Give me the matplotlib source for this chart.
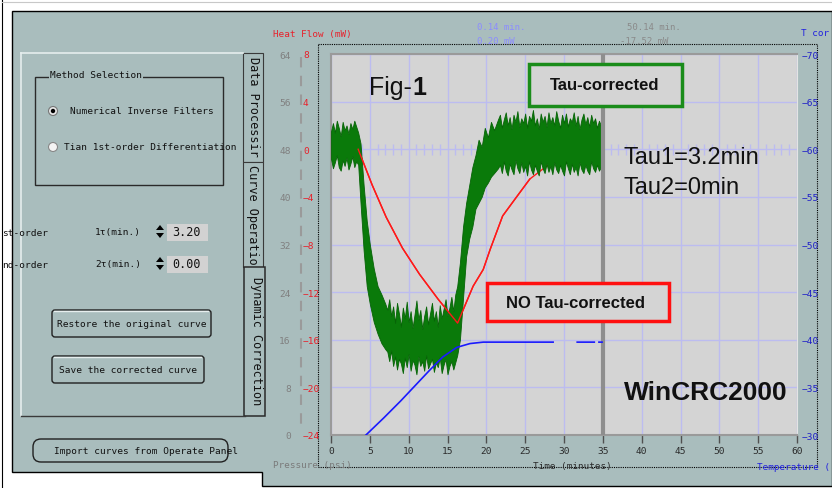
import numpy as np
import matplotlib.pyplot as plt
from matplotlib.patches import Rectangle, FancyBboxPatch, Circle, Polygon

plt.rcParams['font.family'] = 'DejaVu Sans Mono'

# axis ticks
time_ticks = [0, 5, 10, 15, 20, 25, 30, 35, 40, 45, 50, 55, 60]
heat_ticks = [8, 4, 0, -4, -8, -12, -16, -20, -24]
pressure_ticks = [64, 56, 48, 40, 32, 24, 16, 8, 0]
temp_ticks = [-70, -65, -60, -55, -50, -45, -40, -35, -30]

# red curve: heat flow, no tau correction (mW)
red_t = [3.5, 5.3, 7.1, 9.2, 11.4, 13.8, 16.3, 17.2, 18.3, 19.6, 20.5, 22.1, 23.9,
         25.6, 27.8, 29.1, 31.7, 33.5, 35.0]
red_hf = [0.0, -3.0, -5.7, -8.3, -10.5, -12.6, -14.6, -13.2, -11.5, -10.1, -8.4, -5.6, -4.0,
          -2.5, -1.4, -1.0, -0.25, 0.0, 0.1]

# green curve: tau-corrected heat flow, noisy band (upper / lower envelope, mW)
green_t = [0, 0.25, 0.5, 0.75, 1.0, 1.25, 1.5, 1.75, 2.0, 2.25, 2.5, 2.75, 3.0, 3.25, 3.5,
           3.8, 4.2, 4.6, 5.0, 5.5, 6.0, 6.5, 7.0,
           7.25, 7.5, 7.75, 8.0, 8.25, 8.5, 8.75, 9.0, 9.25, 9.5,
           9.75, 10.0, 10.25, 10.5, 10.75, 11.0, 11.25, 11.5, 11.75, 12.0,
           12.25, 12.5, 12.75, 13.0, 13.25, 13.5, 13.75, 14.0, 14.25, 14.5,
           14.75, 15.0, 15.25, 15.5, 15.75, 16.0, 16.25,
           16.6, 17.0, 17.4, 17.8, 18.2, 18.6, 19.0, 19.4, 19.8, 20.2, 20.6, 21.0, 21.5,
           21.75, 22.0, 22.25, 22.5, 22.75, 23.0, 23.25, 23.5, 23.75, 24.0,
           24.25, 24.5, 24.75, 25.0, 25.25, 25.5, 25.75, 26.0, 26.25, 26.5,
           26.75, 27.0, 27.25, 27.5, 27.75, 28.0, 28.25, 28.5, 28.75, 29.0,
           29.25, 29.5, 29.75, 30.0, 30.25, 30.5, 30.75, 31.0, 31.25, 31.5,
           31.75, 32.0, 32.25, 32.5, 32.75, 33.0, 33.25, 33.5, 33.75, 34.0,
           34.25, 34.5, 34.75, 35.0]
green_hi = [1.5, 2.2, 1.4, 2.4, 1.8, 1.1, 2.3, 1.6, 2.0, 1.3, 2.2, 1.7, 2.4, 1.9, 1.4,
            0.5, -3.0, -6.0, -8.0, -10.0, -11.5, -12.2, -13.0,
            -13.5, -12.6, -14.0, -13.2, -14.6, -12.9, -13.8, -14.9, -13.3, -14.2,
            -12.8, -14.5, -13.6, -15.0, -13.9, -12.7, -14.3, -13.5, -15.1, -14.0,
            -13.2, -14.7, -13.8, -12.9, -14.4, -13.6, -14.9, -13.1, -14.2, -13.4,
            -12.6, -14.0, -13.3, -12.4, -13.6, -12.2, -11.5,
            -9.5, -6.5, -4.5, -3.0, -1.5, -0.5, 0.8, 0.2, 1.8, 1.0, 2.3, 1.6, 2.5,
            2.9, 1.8, 2.5, 3.1, 2.0, 2.7, 1.7, 2.9, 2.3, 3.2,
            1.9, 2.6, 2.2, 3.0, 1.8, 2.8, 2.4, 3.3, 2.0, 2.6,
            1.7, 3.0, 2.3, 2.8, 1.9, 3.1, 2.2, 2.7, 2.0, 3.2,
            2.4, 1.8, 2.9, 2.2, 3.0, 1.9, 2.6, 2.3, 3.1, 2.0,
            2.8, 1.7, 2.5, 3.0, 2.1, 2.7, 1.9, 2.9, 2.2, 2.6,
            1.8, 2.4, 2.0, 1.6]
green_lo = [-0.8, -1.6, -1.1, -0.5, -1.5, -1.8, -0.9, -1.4, -0.7, -1.7, -1.2, -0.6, -1.5, -1.0, -1.3,
            -4.5, -8.5, -11.5, -13.0, -14.5, -15.5, -16.3, -16.8,
            -17.0, -17.8, -16.9, -18.2, -17.4, -18.5, -17.6, -18.0, -18.8, -17.5,
            -18.3, -17.2, -18.6, -17.7, -18.1, -18.9, -17.4, -18.2, -17.8, -18.6,
            -17.3, -18.4, -18.0, -17.6, -18.7, -17.9, -18.3, -17.5, -18.8, -18.1,
            -17.6, -18.9, -18.2, -17.8, -18.5, -17.9, -17.3,
            -16.0, -12.5, -9.0, -7.5, -6.5, -5.0, -4.5, -4.0, -3.2, -2.8, -2.3, -2.0, -1.6,
            -1.3, -2.0, -1.0, -1.8, -2.2, -1.2, -1.7, -2.1, -0.9, -1.6,
            -2.0, -1.1, -1.9, -1.4, -2.2, -1.0, -1.7, -2.1, -1.3, -1.8,
            -2.2, -1.0, -1.6, -2.0, -1.2, -1.9, -1.4, -2.1, -1.1, -1.7,
            -2.0, -1.3, -1.8, -2.2, -1.0, -1.6, -2.1, -1.2, -1.9, -1.5,
            -2.2, -1.1, -1.7, -2.0, -1.3, -1.8, -2.1, -1.0, -1.6, -1.9,
            -1.3, -1.8, -1.5, -1.2]

# blue curve: temperature (C), gaps as drawn
blue_t = [4.5, 6.8, 9.0, 12.7, 14.4, 16.2, 17.9, 19.6, 28.6, np.nan, 31.7, 33.9, np.nan, 34.5, 34.9]
blue_temp = [-30, -31.8, -33.6, -36.8, -38.2, -39.2, -39.6, -39.75, -39.75, np.nan,
             -39.75, -39.75, np.nan, -39.75, -39.75]

W, H = 832, 489
teal = '#a9bdbd'
plotbg = '#d4d4d4'


def fbox(x0, y0, x1, y1):
    return [x0 / W, 1 - y1 / H, (x1 - x0) / W, (y1 - y0) / H]


fig = plt.figure(figsize=(W / 100, H / 100), dpi=100, facecolor='white')

# ---- GUI layer in pixel coordinates ----
gui = fig.add_axes([0, 0, 1, 1])
gui.set_xlim(0, W)
gui.set_ylim(H, 0)
gui.axis('off')

gui.add_patch(Polygon([(12, 12), (832, 12), (832, 487), (262, 487), (262, 473), (12, 473)],
                      closed=True, fc=teal, ec='black', lw=1))
gui.plot([2, 2], [0, 489], color='black', lw=0.8)
gui.plot([2, 832], [3, 3], color='#c8c8c8', lw=0.8)

# tab panel
gui.add_patch(Rectangle((21, 54), 222, 363, fc=teal, ec='none'))
gui.plot([21, 243], [54, 54], color='#e6eeee', lw=1.2)
gui.plot([21, 21], [54, 417], color='#e6eeee', lw=1.2)
gui.plot([21, 245], [417, 417], color='#3a3a3a', lw=1)
gui.add_patch(Rectangle((243, 54), 20, 109, fc=teal, ec='#3a3a3a', lw=0.8))
gui.add_patch(Rectangle((243, 163), 20, 105, fc=teal, ec='#3a3a3a', lw=0.8))
gui.add_patch(Rectangle((244, 268), 21, 149, fc=teal, ec='#2a2a2a', lw=1.1))
gui.text(253, 57, 'Data Processir', rotation=270, ha='center', va='top', fontsize=8.6, color='#111')
gui.text(253, 165, 'Curve Operatio', rotation=270, ha='center', va='top', fontsize=8.6, color='#111')
gui.text(256, 277, 'Dynamic Correction', rotation=270, ha='center', va='top', fontsize=8.6, color='#111')

# method selection group
gui.add_patch(Rectangle((35, 78), 188, 108, fill=False, ec='#2a2a2a', lw=1))
gui.text(50, 76, 'Method Selection', ha='left', va='center', fontsize=6.8, color='#111',
         bbox=dict(fc=teal, ec='none', pad=1))
gui.add_patch(Circle((53, 112), 4.5, fc='#e8e8e8', ec='#777', lw=0.8))
gui.add_patch(Circle((53, 112), 2.2, fc='black', ec='none'))
gui.add_patch(Circle((53, 148), 4.5, fc='#f4f4f4', ec='#888', lw=0.8))
gui.text(70, 112, 'Numerical Inverse Filters', ha='left', va='center', fontsize=6.8, color='#111')
gui.text(64, 148, 'Tian 1st-order Differentiation', ha='left', va='center', fontsize=6.8, color='#111')

# tau spin boxes
for y, lab, sym, val in [(233, 'st-order', '1τ(min.)', '3.20'), (265, 'nd-order', '2τ(min.)', '0.00')]:
    gui.text(2, y, lab, ha='left', va='center', fontsize=6.8, color='#111')
    gui.text(95, y, sym, ha='left', va='center', fontsize=6.8, color='#111')
    gui.add_patch(Polygon([(156, y - 2), (164, y - 2), (160, y - 7)], fc='black', ec='none'))
    gui.add_patch(Polygon([(156, y + 1), (164, y + 1), (160, y + 6)], fc='black', ec='none'))
    gui.add_patch(Rectangle((167, y - 8), 41, 17, fc='#d2d2d2', ec='none'))
    gui.text(172, y, val, ha='left', va='center', fontsize=8.5, color='#111')

# buttons
for x0, y0, x1, y1, txt in [(52, 311, 211, 338, 'Restore the original curve'),
                            (52, 357, 204, 384, 'Save the corrected curve')]:
    gui.add_patch(FancyBboxPatch((x0, y0), x1 - x0, y1 - y0, boxstyle='round,pad=0,rounding_size=3',
                                 fc=teal, ec='#202020', lw=1))
    gui.plot([x0 + 2, x1 - 3], [y0 + 1, y0 + 1], color='#e6eeee', lw=1)
    gui.text((x0 + x1) / 2, (y0 + y1) / 2, txt, ha='center', va='center', fontsize=6.8, color='#111')
gui.add_patch(FancyBboxPatch((33, 440), 195, 23, boxstyle='round,pad=0,rounding_size=8',
                             fc=teal, ec='#202020', lw=1))
gui.text(54, 452, 'Import curves from Operate Panel', ha='left', va='center', fontsize=6.8, color='#111')

# plot frame decorations
gui.add_patch(Rectangle((318, 45), 499, 423, fill=False, ec='black', lw=0.8, ls=(0, (1, 1))))
gui.plot([301, 301], [58, 432], color='#9a9a9a', lw=1.5, ls=(0, (5, 4)))
gui.text(273, 35, 'Heat Flow (mW)', ha='left', va='center', fontsize=6.7, color='#e8202a')
gui.text(477, 28, '0.14 min.', ha='left', va='center', fontsize=6.5, color='#8c8cff')
gui.text(477, 42, '0.20 mW', ha='left', va='center', fontsize=6.5, color='#8c8cff')
gui.text(627, 28, '50.14 min.', ha='left', va='center', fontsize=6.5, color='#8a8a8a')
gui.text(620, 42, '-17.52 mW', ha='left', va='center', fontsize=6.5, color='#8a8a8a')
gui.text(801, 33, 'T cor', ha='left', va='center', fontsize=6.7, color='#2020e0')
gui.text(273, 466, 'Pressure (psi)', ha='left', va='center', fontsize=6.7, color='#7a7a7a')
gui.text(533, 467, 'Time (minutes)', ha='left', va='center', fontsize=6.7, color='#2a2a2a')
gui.text(757, 467, 'Temperature (', ha='left', va='center', fontsize=6.7, color='#2020e0')

# ---- chart ----
ax = fig.add_axes(fbox(331, 55, 797, 436))
ax.set_facecolor(plotbg)
ax.set_xlim(0, 60)
ax.set_ylim(-24, 8)
ax.set_xticks(time_ticks)
ax.set_yticks(heat_ticks)
ax.grid(color='#bcbcf0', lw=1)
ax.set_axisbelow(True)
for s in ['left', 'top', 'bottom']:
    ax.spines[s].set_color('#9a9a9a')
    ax.spines[s].set_linewidth(1.5)
ax.spines['right'].set_color('#e4e4e4')
ax.tick_params(axis='x', length=6, width=1, color='#505050', direction='out', pad=2,
               labelsize=6.8, labelcolor='#2a2a2a')
ax.tick_params(axis='y', length=0, pad=20.2, labelsize=6.8, labelcolor='#e8202a')
for lbl in ax.get_yticklabels():
    lbl.set_ha('left')

minor_t = [t for t in range(1, 60) if t % 5 != 0]
ax.vlines(minor_t, -0.45, 0.45, color='#bcbcf0', lw=1, zorder=1)
ax.axvline(0, color='#6464ff', lw=1.2, zorder=1.5)

ax.plot(red_t, red_hf, color='#ff1a1a', lw=1, zorder=2)
ax.fill_between(green_t, green_lo, green_hi, color='#0a7a0a', ec='#066406', lw=0.6, zorder=3)
n_top = sum(1 for t in red_t if t < 27.5)
ax.plot(red_t[:n_top], red_hf[:n_top], color='#ff1a1a', lw=1, zorder=4)
ax.axvline(35, color='#8e8e8e', lw=3, zorder=5)

axt = ax.twinx()
axt.set_ylim(-30, -70)
axt.set_yticks(temp_ticks)
axt.tick_params(axis='y', length=0, pad=3, labelsize=6.8, labelcolor='#2020c8')
for s in axt.spines.values():
    s.set_visible(False)
axt.plot(blue_t, blue_temp, color='#1a1aff', lw=1.2)

axp = ax.twinx()
axp.set_ylim(0, 64)
axp.yaxis.tick_left()
axp.set_yticks(pressure_ticks)
axp.tick_params(axis='y', length=0, pad=29, labelsize=6.8, labelcolor='#808080')
for s in axp.spines.values():
    s.set_visible(False)

# annotations (pixel positions)
tr = gui.transData
sans = 'Liberation Sans'
axp.add_patch(Rectangle((529, 65), 153, 42, transform=tr, fc=plotbg, ec='#1a8c1a', lw=2.5, clip_on=False))
axp.text(605, 86, 'Tau-corrected', transform=tr, ha='center', va='center', fontsize=12,
         fontweight='bold', family=sans, color='#111')
axp.add_patch(Rectangle((487, 284), 182, 38, transform=tr, fc=plotbg, ec='#ff1010', lw=2.5, clip_on=False))
axp.text(576, 304, 'NO Tau-corrected', transform=tr, ha='center', va='center', fontsize=12,
         fontweight='bold', family=sans, color='#111')
axp.text(369, 88, 'Fig-', transform=tr, ha='left', va='center', fontsize=18, family=sans, color='#111')
axp.text(412, 88, '1', transform=tr, ha='left', va='center', fontsize=18, fontweight='bold',
         family=sans, color='#111')
axp.text(623, 158, 'Tau1=3.2min', transform=tr, ha='left', va='center', fontsize=17, family=sans, color='#111')
axp.text(623, 188, 'Tau2=0min', transform=tr, ha='left', va='center', fontsize=17, family=sans, color='#111')
axp.text(624, 393, 'WinCRC2000', transform=tr, ha='left', va='center', fontsize=19, fontweight='bold',
         family=sans, color='#111')

fig.savefig('out.png', dpi=100)
